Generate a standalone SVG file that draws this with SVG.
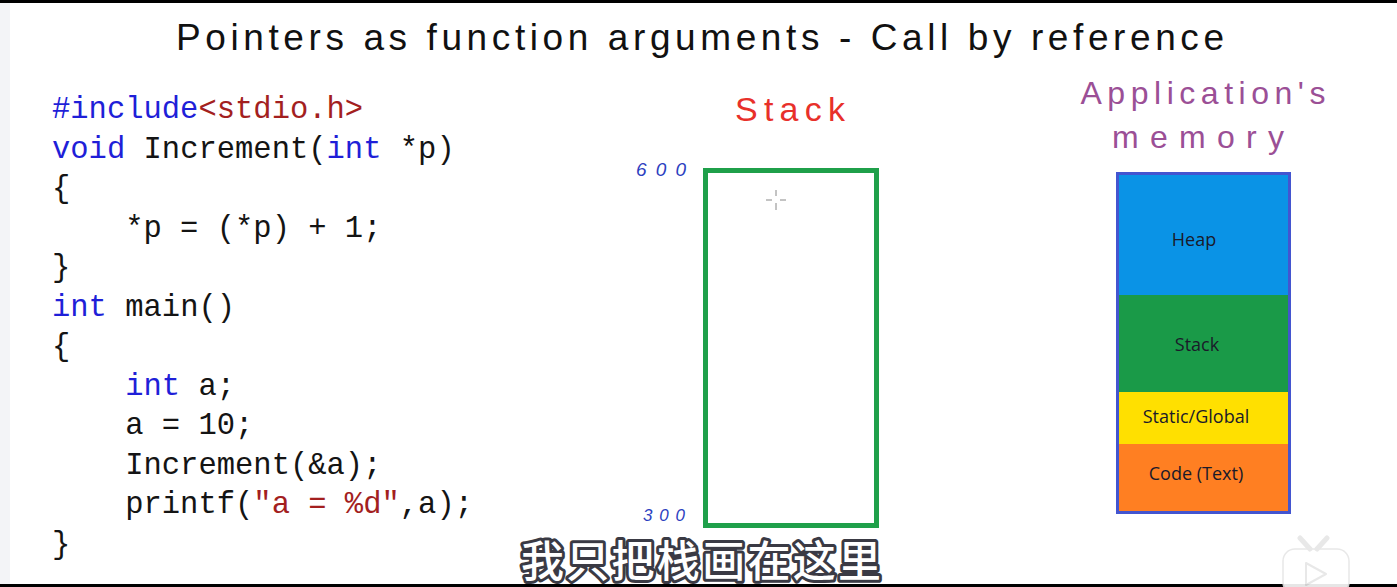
<svg xmlns="http://www.w3.org/2000/svg" width="1397" height="587" viewBox="0 0 1397 587">
<style>
.code{font-family:"Liberation Mono","DejaVu Sans Mono",monospace;font-size:30.5px;fill:#141414}
.kw{fill:#1f1fd8}
.str{fill:#a31f1f}
.hand{font-family:"Liberation Sans","DejaVu Sans",sans-serif}
.mem{font-family:"Open Sans","Liberation Sans",sans-serif;font-size:18px;fill:#1a1a2a;text-anchor:middle}
</style>
<rect x="0" y="0" width="1397" height="587" fill="#ffffff"/>
<rect x="0" y="0" width="10" height="587" fill="#f3f4f7"/>
<rect x="0" y="0" width="1397" height="3" fill="#000"/>
<rect x="0" y="584" width="1397" height="3" fill="#000"/>

<g id="title">
<text class="hand" x="176" y="50" font-size="37" fill="#111" textLength="1048" lengthAdjust="spacing">Pointers as function arguments - Call by reference</text>
</g>

<g id="code">
<text class="code" x="52" y="118"><tspan class="kw">#include</tspan><tspan class="str">&lt;stdio.h&gt;</tspan></text>
<text class="code" x="52" y="158"><tspan class="kw">void</tspan> Increment(<tspan class="kw">int</tspan> *p)</text>
<text class="code" x="52" y="197">{</text>
<text class="code" x="52" y="237" xml:space="preserve">    *p = (*p) + 1;</text>
<text class="code" x="52" y="276">}</text>
<text class="code" x="52" y="316"><tspan class="kw">int</tspan> main()</text>
<text class="code" x="52" y="355">{</text>
<text class="code" x="52" y="395" xml:space="preserve">    <tspan class="kw">int</tspan> a;</text>
<text class="code" x="52" y="434" xml:space="preserve">    a = 10;</text>
<text class="code" x="52" y="474" xml:space="preserve">    Increment(&amp;a);</text>
<text class="code" x="52" y="513" xml:space="preserve">    printf(<tspan class="str">"a = %d"</tspan>,a);</text>
<text class="code" x="52" y="553">}</text>
</g>

<g id="stack-frame">
<text class="hand" x="790" y="121" font-size="34" fill="#e8302a" text-anchor="middle" textLength="110" lengthAdjust="spacing">Stack</text>
<text class="hand" x="636" y="176" font-size="19" fill="#2d3fc0" font-style="italic" textLength="50" lengthAdjust="spacing">600</text>
<text class="hand" x="643" y="521" font-size="17" fill="#2d3fc0" font-style="italic" textLength="42" lengthAdjust="spacing">300</text>
<rect x="705.5" y="170.5" width="171" height="355" fill="none" stroke="#1fa04a" stroke-width="5"/>
<g stroke="#888" stroke-width="1">
<line x1="776" y1="190" x2="776" y2="196"/><line x1="776" y1="203" x2="776" y2="210"/>
<line x1="766" y1="200" x2="772" y2="200"/><line x1="780" y1="200" x2="786" y2="200"/>
</g>
</g>

<g id="app-memory">
<text class="hand" x="1203" y="104" font-size="32" fill="#9b4f96" text-anchor="middle" textLength="245" lengthAdjust="spacing">Application's</text>
<text class="hand" x="1198" y="148" font-size="32" fill="#9b4f96" text-anchor="middle" textLength="172" lengthAdjust="spacing">memory</text>
<rect x="1116" y="172" width="175" height="342" fill="#4355d0"/>
<g id="heap"><rect x="1119" y="175" width="169" height="120" fill="#0a93e6"/><text class="mem" x="1194" y="246">Heap</text></g>
<g id="stack"><rect x="1119" y="295" width="169" height="97" fill="#1a9a48"/><text class="mem" x="1197" y="351">Stack</text></g>
<g id="static"><rect x="1119" y="392" width="169" height="52" fill="#ffe000"/><text class="mem" x="1196" y="423">Static/Global</text></g>
<g id="code-seg"><rect x="1119" y="444" width="169" height="67" fill="#ff7f22"/><text class="mem" x="1196" y="480">Code (Text)</text></g>
</g>

<g id="subtitle">
<text x="701" y="577" font-family="Noto Sans CJK SC, sans-serif" font-size="43" font-weight="500" fill="#ffffff" stroke="#3a3a44" stroke-width="6" stroke-linejoin="round" paint-order="stroke" text-anchor="middle" textLength="360" lengthAdjust="spacing">我只把栈画在这里</text>
</g>

<g id="logo" opacity="0.9">
<rect x="1283" y="549" width="66" height="45" rx="12" fill="#ffffff" stroke="#e6e6e6" stroke-width="1.5"/>
<line x1="1300" y1="538" x2="1310" y2="549" stroke="#e6e6e6" stroke-width="5" stroke-linecap="round"/>
<line x1="1327" y1="538" x2="1317" y2="549" stroke="#e6e6e6" stroke-width="5" stroke-linecap="round"/>
<path d="M1306 563 L1326 574 L1306 585 Z" fill="none" stroke="#e6e6e6" stroke-width="2" stroke-linejoin="round"/>
</g>

<g id="connectors"></g>
</svg>
